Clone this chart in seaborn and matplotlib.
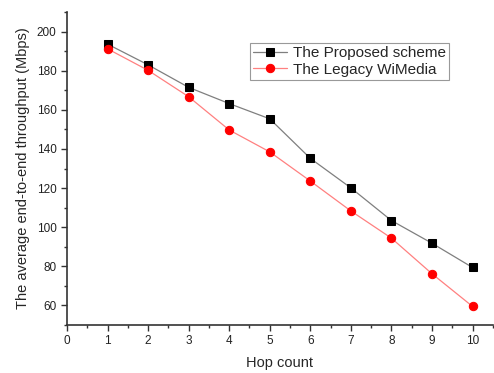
import matplotlib
matplotlib.use("Agg")
import matplotlib.pyplot as plt
import seaborn as sns
import pandas as pd
from matplotlib.ticker import MultipleLocator

hops = [1, 2, 3, 4, 5, 6, 7, 8, 9, 10]
proposed = [193.6, 183.0, 171.5, 163.2, 155.4, 135.2, 120.1, 103.4, 91.8, 79.4]
legacy = [191.2, 180.2, 166.7, 149.7, 138.5, 123.6, 108.3, 94.4, 76.2, 59.5]
series_names = ["The Proposed scheme", "The Legacy WiMedia"]

sns.set_style("ticks")
plt.rcParams['font.family'] = ['Liberation Sans', 'DejaVu Sans']

fig = plt.figure(figsize=(4.94, 3.73), dpi=100)
ax = fig.add_axes([0.1356, 0.1287, 0.862, 0.839])

df1 = pd.DataFrame({"hop": hops, "val": proposed})
df2 = pd.DataFrame({"hop": hops, "val": legacy})

sns.lineplot(data=df1, x="hop", y="val", ax=ax, color="#7f7f7f", lw=0.9,
             marker="s", markersize=5.5, markerfacecolor="black", markeredgecolor="black",
             label=series_names[0])
sns.lineplot(data=df2, x="hop", y="val", ax=ax, color="#ff8080", lw=0.9,
             marker="o", markersize=6, markerfacecolor="#ff0000", markeredgecolor="#ff0000",
             label=series_names[1])

ax.set_xlim(0, 10.5)
ax.set_ylim(50, 210)
ax.xaxis.set_major_locator(MultipleLocator(1))
ax.xaxis.set_minor_locator(MultipleLocator(0.5))
ax.yaxis.set_major_locator(MultipleLocator(20))
ax.yaxis.set_minor_locator(MultipleLocator(10))
ax.set_yticks(range(60, 201, 20))
ax.tick_params(which="major", direction="out", length=4, width=1, labelsize=8.5, colors="#333333", labelcolor="#222222")
ax.tick_params(which="minor", direction="out", length=2.5, width=1, colors="#333333")
for s in ["top", "right"]:
    ax.spines[s].set_visible(False)
for s in ["left", "bottom"]:
    ax.spines[s].set_linewidth(1.2)
    ax.spines[s].set_color("#333333")

ax.set_xlabel("Hop count", fontsize=10.5, labelpad=6)
ax.set_ylabel("The average end-to-end throughput (Mbps)", fontsize=10.5, labelpad=5)

leg = ax.legend(loc="upper left", bbox_to_anchor=(0.43, 0.90), fontsize=11,
                frameon=True, fancybox=False, framealpha=1, edgecolor="#999999",
                borderpad=0.2, handlelength=2.2, handletextpad=0.4, labelspacing=0.15,
                borderaxespad=0)
leg.get_frame().set_linewidth(0.8)

fig.savefig("out.png", dpi=100)
